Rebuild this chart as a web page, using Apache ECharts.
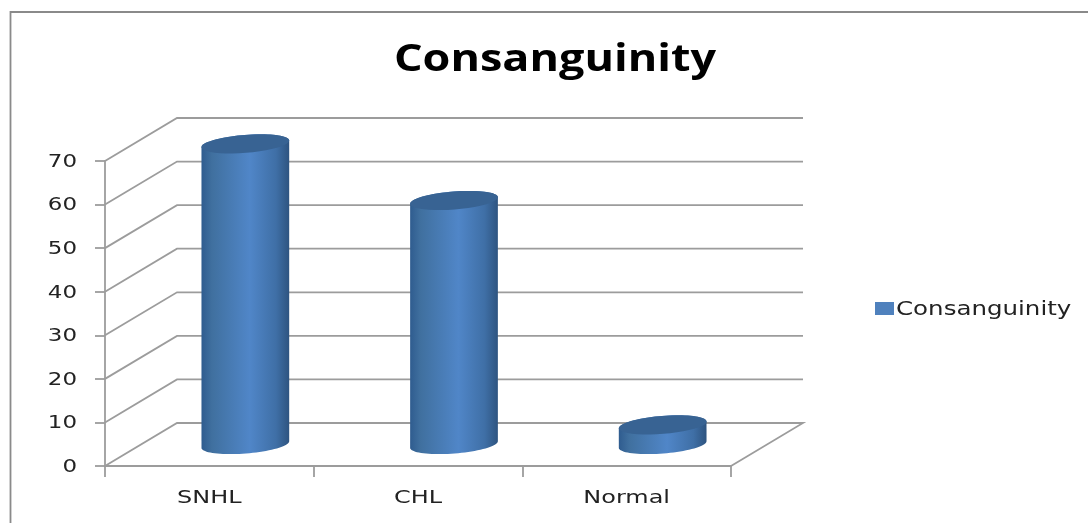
<!DOCTYPE html>
<html><head><meta charset="utf-8">
<style>html,body{margin:0;padding:0;background:#fff;overflow:hidden}#c{width:1088px;height:523px;filter:blur(0.5px)}</style>
<script src="https://cdn.jsdelivr.net/npm/echarts@6/dist/echarts.min.js"></script>
</head><body><div id="c"></div>
<script>
const categories = ['SNHL', 'CHL', 'Normal'];
const seriesName = 'Consanguinity';
const values = [69, 56, 4.5];
const yTicks = [0, 10, 20, 30, 40, 50, 60, 70];

const depthX = 72, depthY = 43;
const rx = 44, ry = 9, tilt = 4.5 * Math.PI / 180;
const lineColor = '#9c9c9c';
const labelFont = '18px "DejaVu Sans"';

function ellipsePt(cx, cy, t) {
  const x = rx * Math.cos(t), y = ry * Math.sin(t);
  return [cx + x * Math.cos(tilt) + y * Math.sin(tilt), cy - x * Math.sin(tilt) + y * Math.cos(tilt)];
}
function arc(cx, cy, a0, a1) {
  const pts = [];
  for (let i = 0; i <= 40; i++) pts.push(ellipsePt(cx, cy, a0 + (a1 - a0) * i / 40));
  return pts;
}

function renderWall(params, api) {
  const v = api.value(0);
  const band = api.size([1, 0])[0];
  const first = api.coord([0, v]);
  const last = api.coord([categories.length - 1, v]);
  const fl = [first[0] - band / 2, first[1]];
  const fr = [last[0] + band / 2, last[1]];
  const bl = [fl[0] + depthX, fl[1] - depthY];
  const br = [fr[0] + depthX, fr[1] - depthY];
  const pts = v === 0 ? [fl, bl, br, fr] : [fl, bl, br];
  return {
    type: 'group', silent: true,
    children: [
      { type: 'polyline', shape: { points: pts },
        style: { stroke: lineColor, lineWidth: 1.8, fill: null } },
      { type: 'text', x: fl[0] - 28, y: fl[1] + 1.5, scaleX: 1.35,
        style: { text: String(v), font: labelFont.replace('18px', '17px'), fill: '#222',
                 textAlign: 'right', verticalAlign: 'middle' } }
    ]
  };
}

function renderXLabel(params, api) {
  const i = api.value(0);
  const c = api.coord([i, 0]);
  return {
    type: 'text', silent: true, x: c[0], y: c[1] + 32, scaleX: 1.33,
    style: { text: categories[i], font: labelFont, fill: '#222', textAlign: 'center', verticalAlign: 'middle' }
  };
}

function renderCyl(params, api) {
  const i = api.value(0);
  const base = api.coord([i, 0]);
  const top = api.coord([i, api.value(1)]);
  const cx = base[0] + depthX / 2;
  const by = base[1] - depthY / 2;
  const ty = top[1] - depthY / 2;
  const body = arc(cx, ty, Math.PI, 2 * Math.PI).concat(arc(cx, by, 0, Math.PI));
  return {
    type: 'group', silent: true,
    children: [
      { type: 'polygon', shape: { points: body },
        style: { fill: new echarts.graphic.LinearGradient(0, 0, 1, 0, [
          { offset: 0, color: '#2f5c8f' },
          { offset: 0.12, color: '#40709f' },
          { offset: 0.55, color: '#5086c8' },
          { offset: 0.85, color: '#3f6fa6' },
          { offset: 1, color: '#2e5480' }
        ]) } },
      { type: 'polygon', shape: { points: arc(cx, ty, 0, 2 * Math.PI) },
        style: { fill: '#386393' } }
    ]
  };
}

const chart = echarts.init(document.getElementById('c'), null, { renderer: 'canvas' });
chart.setOption({
  animation: false,
  backgroundColor: '#fff',
  legend: {
    data: [seriesName], icon: 'rect', left: 870, top: 297, itemWidth: 19, itemHeight: 13, itemGap: 0,
    formatter: () => '', selectedMode: false, textStyle: { fontSize: 1 }
  },
  grid: { left: 105, top: 161, width: 626, height: 305 },
  xAxis: {
    type: 'category', data: categories,
    axisLine: { lineStyle: { color: lineColor, width: 1.8 } },
    axisTick: { show: true, length: 11, lineStyle: { color: lineColor, width: 1.8 } },
    axisLabel: { show: false }
  },
  yAxis: {
    type: 'value', min: 0, max: 70, interval: 10,
    axisLine: { show: true, lineStyle: { color: lineColor, width: 1.8 } },
    axisTick: { show: true, length: 10, lineStyle: { color: lineColor, width: 1.8 } },
    splitLine: { show: false },
    axisLabel: { show: false }
  },
  graphic: [
    { type: 'polyline', silent: true, z: 0,
      shape: { points: [[10.5, 523], [10.5, 12], [1088, 12]] },
      style: { stroke: '#8a8a8a', lineWidth: 1.8, fill: null } },
    { type: 'text', silent: true, x: 555, y: 60, scaleX: 1.215,
      style: { text: seriesName, font: 'bold 37px "Open Sans"', fill: '#000', textAlign: 'center', verticalAlign: 'middle' } },
    { type: 'text', silent: true, x: 896, y: 310, scaleX: 1.29,
      style: { text: seriesName, font: '19px "DejaVu Sans"', fill: '#222', textAlign: 'left', verticalAlign: 'middle' } }
  ],
  series: [
    { type: 'custom', name: 'walls', z: 1, silent: true, coordinateSystem: 'cartesian2d',
      data: yTicks.map(v => [v]), encode: { y: 0 }, renderItem: renderWall },
    { type: 'custom', name: 'xLabels', z: 1, silent: true, coordinateSystem: 'cartesian2d',
      data: categories.map((c, i) => [i]), encode: { x: 0 }, renderItem: renderXLabel },
    { type: 'custom', name: seriesName, z: 2, coordinateSystem: 'cartesian2d',
      itemStyle: { color: '#4f81bd' },
      data: values.map((v, i) => [i, v]), encode: { x: 0, y: 1 }, renderItem: renderCyl }
  ]
});
</script></body></html>
